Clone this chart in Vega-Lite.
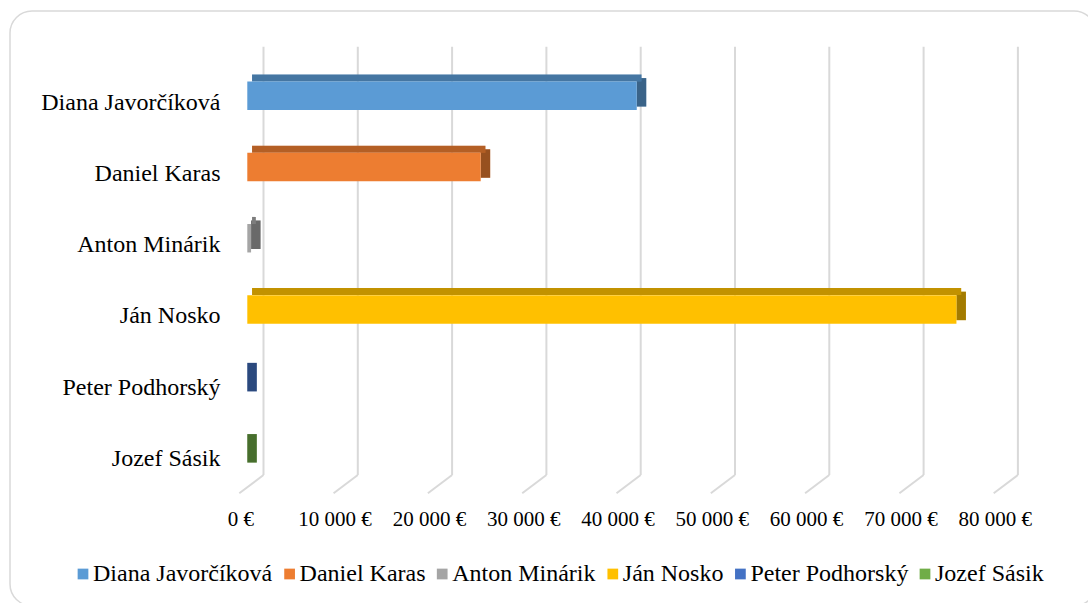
{
  "$schema": "https://vega.github.io/schema/vega-lite/v6.json",
  "autosize": {"type": "none"},
  "padding": {"left": 10, "top": 11, "right": 0, "bottom": 0},
  "width": 1086,
  "height": 595,
  "background": "white",
  "datasets": {
    "payouts": [
      {"name": "Diana Javorčíková", "value": 41300},
      {"name": "Daniel Karas", "value": 24750},
      {"name": "Anton Minárik", "value": 400},
      {"name": "Ján Nosko", "value": 75200},
      {"name": "Peter Podhorský", "value": 0},
      {"name": "Jozef Sásik", "value": 0}
    ],
    "ticks": [
      {"value": 0}, {"value": 10000}, {"value": 20000}, {"value": 30000}, {"value": 40000},
      {"value": 50000}, {"value": 60000}, {"value": 70000}, {"value": 80000}
    ]
  },
  "resolve": {"scale": {"y": "independent"}, "axis": {"y": "independent"}},
  "layer": [
    {
      "data": {"name": "ticks"},
      "layer": [
        {
          "mark": {"type": "rule", "color": "#d9d9d9", "strokeWidth": 2, "xOffset": 16.2},
          "encoding": {
            "x": {"field": "value", "type": "quantitative", "title": null,
                  "scale": {"domain": [0, 80000], "range": [237.3, 991.7], "nice": false, "zero": false}},
            "y": {"datum": 0, "type": "quantitative", "axis": null,
                  "scale": {"domain": [0, 1], "range": [464, 35.7], "nice": false, "zero": false}},
            "y2": {"datum": 1}
          }
        },
        {
          "mark": {"type": "rule", "color": "#d9d9d9", "strokeWidth": 2, "xOffset": 16.2, "x2Offset": -8},
          "encoding": {
            "x": {"field": "value", "type": "quantitative", "title": null,
                  "scale": {"domain": [0, 80000], "range": [237.3, 991.7], "nice": false, "zero": false}},
            "x2": {"field": "value"},
            "y": {"datum": 0, "type": "quantitative", "axis": null,
                  "scale": {"domain": [0, 1], "range": [464, 35.7], "nice": false, "zero": false}},
            "y2": {"datum": -0.0427}
          }
        }
      ]
    },
    {
      "data": {"name": "payouts"},
      "encoding": {
        "y": {"field": "name", "type": "nominal", "title": null,
              "sort": ["Diana Javorčíková", "Daniel Karas", "Anton Minárik", "Ján Nosko", "Peter Podhorský", "Jozef Sásik"],
              "scale": {"range": [56.35, 469.3], "paddingInner": 0.6, "paddingOuter": 0.2}},
        "x": {"field": "value", "type": "quantitative", "title": null, "stack": null,
              "scale": {"domain": [0, 80000], "range": [237.3, 991.7], "nice": false, "zero": false}}
      },
      "layer": [
        {
          "mark": {"type": "bar", "height": 28.5, "yOffset": -3.5, "x2Offset": 9.5},
          "encoding": {
            "x2": {"field": "value"},
            "color": {"field": "name", "type": "nominal",
                      "scale": {"domain": ["Diana Javorčíková", "Daniel Karas", "Anton Minárik", "Ján Nosko", "Peter Podhorský", "Jozef Sásik"],
                                "range": ["#5b9bd5", "#ed7d31", "#a5a5a5", "#ffc000", "#4472c4", "#70ad47"]}}
          }
        },
        {
          "mark": {"type": "bar", "height": 28.5, "yOffset": -3.5, "x2Offset": 9.5, "color": "black", "opacity": 0.36},
          "encoding": {"x2": {"field": "value"}}
        },
        {
          "mark": {"type": "bar", "height": 7, "yOffset": -17.8, "xOffset": 4.75, "x2Offset": 4.75},
          "encoding": {
            "x2": {"datum": 0},
            "color": {"field": "name", "type": "nominal"}
          }
        },
        {
          "mark": {"type": "bar", "height": 7, "yOffset": -17.8, "xOffset": 4.75, "x2Offset": 4.75, "color": "black", "opacity": 0.24},
          "encoding": {"x2": {"datum": 0}}
        },
        {
          "mark": {"type": "bar"},
          "encoding": {
            "x2": {"datum": 0},
            "color": {"field": "name", "type": "nominal",
                      "legend": {"orient": "none", "legendX": 61, "legendY": 551, "direction": "horizontal", "title": null}}
          }
        }
      ]
    }
  ],
  "config": {
    "locale": {"number": {"decimal": ",", "thousands": " ", "grouping": [3], "currency": ["", " €"]}},
    "view": {"stroke": "#d9d9d9", "strokeWidth": 1.5, "cornerRadius": 22},
    "axisX": {
      "tickCount": 8, "format": "$,d", "domain": false, "ticks": false, "tickSize": 0, "grid": false,
      "labelFont": "Liberation Serif", "labelFontSize": 21, "labelColor": "#000000",
      "labelBaseline": "alphabetic", "labelPadding": 0, "offset": -81, "labelOffset": -7,
      "labelFlush": false, "labelOverlap": false
    },
    "axisY": {
      "domain": false, "ticks": false, "tickSize": 0, "grid": false,
      "labelFont": "Liberation Serif", "labelFontSize": 24, "labelColor": "#000000",
      "labelBaseline": "alphabetic", "labelPadding": 0, "offset": -210, "labelOffset": 14,
      "labelLimit": 0
    },
    "legend": {
      "symbolType": "square", "symbolSize": 115, "symbolStrokeWidth": 0, "symbolOpacity": 1,
      "labelFont": "Liberation Serif", "labelFontSize": 24, "labelColor": "#000000",
      "labelOffset": -2, "columnPadding": 4.6, "padding": 0, "labelLimit": 0
    }
  }
}
